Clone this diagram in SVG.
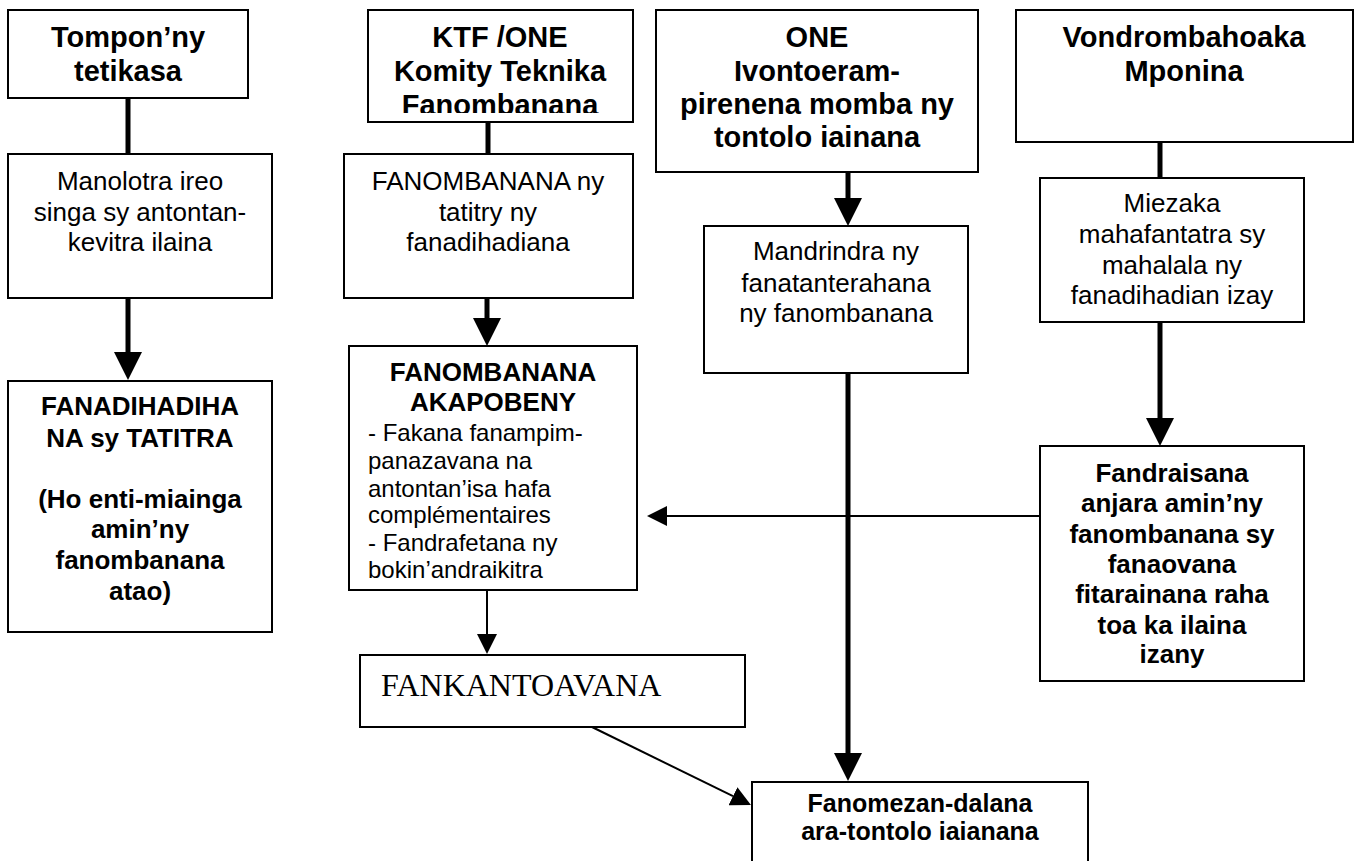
<svg xmlns="http://www.w3.org/2000/svg" width="1360" height="861" viewBox="0 0 1360 861">
<defs>
<style>
.box{fill:#fff;stroke:#000;stroke-width:2}
.t{font-family:"Liberation Sans",Arial,sans-serif;fill:#000}
.h{font-size:29px;font-weight:bold;text-anchor:middle}
.r{font-size:26px;text-anchor:middle}
.b{font-size:26px;font-weight:bold;text-anchor:middle}
.bs{font-size:25px;font-weight:bold;text-anchor:middle}
.s{font-size:24px}
.serif{font-family:"Liberation Serif","Times New Roman",serif;font-size:32px;fill:#000}
.thick{stroke:#000;stroke-width:5;fill:none}
.thin{stroke:#000;stroke-width:2;fill:none}
</style>
<marker id="bigHead" markerUnits="userSpaceOnUse" markerWidth="28" markerHeight="28" viewBox="0 0 28 28" refX="0" refY="14" orient="auto">
<path d="M0,0 L28,14 L0,28 z" fill="#000"/>
</marker>
<marker id="smallHead" markerUnits="userSpaceOnUse" markerWidth="20" markerHeight="20" viewBox="0 0 20 20" refX="0" refY="10" orient="auto">
<path d="M0,0 L20,10 L0,20 z" fill="#000"/>
</marker>
<clipPath id="clipB1"><rect x="368" y="10" width="265" height="103"/></clipPath>
</defs>
<rect width="1360" height="861" fill="#fff"/>

<g id="connectors">
<line class="thick" x1="128" y1="99" x2="128" y2="154"/>
<line class="thick" x1="128" y1="298" x2="128" y2="352" marker-end="url(#bigHead)"/>
<line class="thick" x1="488" y1="123" x2="488" y2="154"/>
<line class="thick" x1="487" y1="298" x2="487" y2="318" marker-end="url(#bigHead)"/>
<line class="thick" x1="848" y1="173" x2="848" y2="198" marker-end="url(#bigHead)"/>
<line class="thick" x1="848" y1="373" x2="848" y2="753" marker-end="url(#bigHead)"/>
<line class="thick" x1="1160" y1="142" x2="1160" y2="178"/>
<line class="thick" x1="1160" y1="322" x2="1160" y2="418" marker-end="url(#bigHead)"/>
<line class="thin" x1="487" y1="590" x2="487" y2="634" marker-end="url(#smallHead)"/>
<line class="thin" x1="1043" y1="516" x2="667" y2="516" marker-end="url(#smallHead)"/>
<line class="thin" x1="592" y1="727" x2="733" y2="796.2" marker-end="url(#smallHead)"/>
</g>

<g id="tompon">
<rect class="box" x="8" y="10" width="240" height="88"/>
<text class="t h"><tspan x="128" y="47">Tompon’ny</tspan><tspan x="128" y="81">tetikasa</tspan></text>
</g>

<g id="manolotra">
<rect class="box" x="8" y="154" width="264" height="144"/>
<text class="t r"><tspan x="140" y="190">Manolotra ireo</tspan><tspan x="140" y="221">singa sy antontan-</tspan><tspan x="140" y="251">kevitra ilaina</tspan></text>
</g>

<g id="fanadihadihana">
<rect class="box" x="8" y="381" width="264" height="251"/>
<text class="t b"><tspan x="140" y="415">FANADIHADIHA</tspan><tspan x="140" y="447">NA sy TATITRA</tspan><tspan x="140" y="508">(Ho enti-miainga</tspan><tspan x="140" y="538">amin’ny</tspan><tspan x="140" y="569">fanombanana</tspan><tspan x="140" y="600">atao)</tspan></text>
</g>

<g id="ktf">
<rect class="box" x="368" y="10" width="265" height="112"/>
<text class="t h" clip-path="url(#clipB1)"><tspan x="500" y="47">KTF /ONE</tspan><tspan x="500" y="81">Komity Teknika</tspan><tspan x="500" y="115">Fanombanana</tspan></text>
</g>

<g id="fanombanana-tatitra">
<rect class="box" x="344" y="154" width="289" height="144"/>
<text class="t r"><tspan x="488" y="190">FANOMBANANA ny</tspan><tspan x="488" y="221">tatitry ny</tspan><tspan x="488" y="251">fanadihadiana</tspan></text>
</g>

<g id="akapobeny">
<rect class="box" x="349" y="346" width="288" height="244"/>
<text class="t b"><tspan x="493" y="381">FANOMBANANA</tspan><tspan x="493" y="411">AKAPOBENY</tspan></text>
<text class="t s"><tspan x="368" y="441">- Fakana fanampim-</tspan><tspan x="368" y="469">panazavana na</tspan><tspan x="368" y="497">antontan’isa hafa</tspan><tspan x="368" y="523">complémentaires</tspan><tspan x="368" y="551">- Fandrafetana ny</tspan><tspan x="368" y="578">bokin’andraikitra</tspan></text>
</g>

<g id="fankantoavana">
<rect class="box" x="360" y="655" width="385" height="72"/>
<text class="serif" x="381" y="696">FANKANTOAVANA</text>
</g>

<g id="one">
<rect class="box" x="656" y="10" width="322" height="162"/>
<text class="t h"><tspan x="817" y="47">ONE</tspan><tspan x="817" y="81">Ivontoeram-</tspan><tspan x="817" y="114">pirenena momba ny</tspan><tspan x="817" y="147">tontolo iainana</tspan></text>
</g>

<g id="mandrindra">
<rect class="box" x="704" y="226" width="264" height="147"/>
<text class="t r"><tspan x="836" y="260">Mandrindra ny</tspan><tspan x="836" y="292">fanatanterahana</tspan><tspan x="836" y="322">ny fanombanana</tspan></text>
</g>

<g id="fanomezan-dalana">
<rect class="box" x="752" y="782" width="336" height="110"/>
<text class="t bs"><tspan x="920" y="812">Fanomezan-dalana</tspan><tspan x="920" y="840">ara-tontolo iaianana</tspan></text>
</g>

<g id="vondrombahoaka">
<rect class="box" x="1016" y="10" width="337" height="132"/>
<text class="t h"><tspan x="1184" y="47">Vondrombahoaka</tspan><tspan x="1184" y="81">Mponina</tspan></text>
</g>

<g id="miezaka">
<rect class="box" x="1040" y="178" width="264" height="144"/>
<text class="t r"><tspan x="1172" y="212">Miezaka</tspan><tspan x="1172" y="243">mahafantatra sy</tspan><tspan x="1172" y="274">mahalala ny</tspan><tspan x="1172" y="304">fanadihadian izay</tspan></text>
</g>

<g id="fandraisana">
<rect class="box" x="1040" y="446" width="264" height="235"/>
<text class="t b"><tspan x="1172" y="482">Fandraisana</tspan><tspan x="1172" y="512">anjara amin’ny</tspan><tspan x="1172" y="543">fanombanana sy</tspan><tspan x="1172" y="573">fanaovana</tspan><tspan x="1172" y="603">fitarainana raha</tspan><tspan x="1172" y="634">toa ka ilaina</tspan><tspan x="1172" y="663">izany</tspan></text>
</g>
</svg>
